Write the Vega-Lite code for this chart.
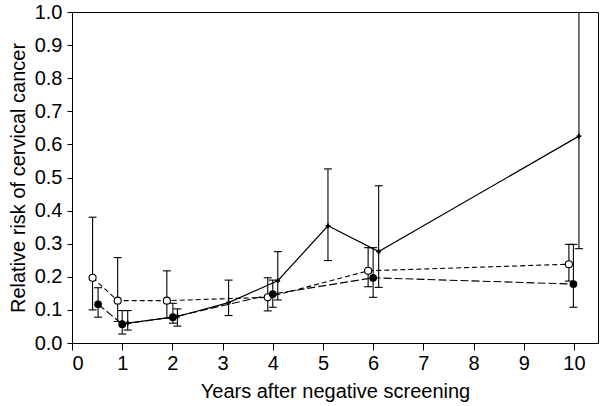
{
  "$schema": "https://vega.github.io/schema/vega-lite/v6.json",
  "width": 526,
  "height": 331,
  "autosize": {"type": "none"},
  "padding": {"left": 72, "top": 12, "right": 2, "bottom": 63},
  "background": "white",
  "config": {
    "view": {"stroke": "black", "strokeWidth": 1},
    "font": "Liberation Sans",
    "axis": {
      "domain": false,
      "grid": false,
      "tickColor": "black",
      "labelColor": "black",
      "titleColor": "black",
      "labelFontSize": 20,
      "titleFontSize": 20,
      "titleFontWeight": "normal",
      "labelFont": "Liberation Sans",
      "titleFont": "Liberation Sans",
      "labelOverlap": false
    }
  },
  "data": {
    "values": [
      {"series": "A", "x": 0.41, "y": 0.197, "lo": 0.10, "hi": 0.38},
      {"series": "A", "x": 0.91, "y": 0.128, "lo": 0.065, "hi": 0.258},
      {"series": "A", "x": 1.89, "y": 0.128, "lo": 0.075, "hi": 0.218},
      {"series": "A", "x": 3.90, "y": 0.138, "lo": 0.097, "hi": 0.197},
      {"series": "A", "x": 5.90, "y": 0.218, "lo": 0.17, "hi": 0.288},
      {"series": "A", "x": 9.90, "y": 0.238, "lo": 0.187, "hi": 0.298},
      {"series": "B", "x": 0.52, "y": 0.117, "lo": 0.078, "hi": 0.167},
      {"series": "B", "x": 1.00, "y": 0.057, "lo": 0.027, "hi": 0.098},
      {"series": "B", "x": 2.01, "y": 0.078, "lo": 0.06, "hi": 0.12},
      {"series": "B", "x": 4.00, "y": 0.148, "lo": 0.108, "hi": 0.19},
      {"series": "B", "x": 6.00, "y": 0.197, "lo": 0.138, "hi": 0.288},
      {"series": "B", "x": 9.99, "y": 0.178, "lo": 0.108, "hi": 0.298},
      {"series": "C", "x": 1.11, "y": 0.06, "lo": 0.039, "hi": 0.098},
      {"series": "C", "x": 2.10, "y": 0.08, "lo": 0.051, "hi": 0.103},
      {"series": "C", "x": 3.12, "y": 0.122, "lo": 0.083, "hi": 0.19},
      {"series": "C", "x": 4.10, "y": 0.188, "lo": 0.13, "hi": 0.276},
      {"series": "C", "x": 5.10, "y": 0.354, "lo": 0.249, "hi": 0.526},
      {"series": "C", "x": 6.11, "y": 0.276, "lo": 0.168, "hi": 0.475},
      {"series": "C", "x": 10.10, "y": 0.625, "lo": 0.285, "hi": 1.3}
    ]
  },
  "encoding": {
    "x": {
      "field": "x",
      "type": "quantitative",
      "scale": {"domain": [0, 10.48], "nice": false, "zero": false},
      "axis": {
        "title": "Years after negative screening",
        "values": [0, 1, 2, 3, 4, 5, 6, 7, 8, 9, 10],
        "tickSize": 7,
        "labelPadding": 3,
        "titlePadding": 8
      }
    }
  },
  "layer": [
    {
      "transform": [{"filter": "datum.series === 'A'"}],
      "mark": {"type": "line", "color": "black", "strokeWidth": 1.1, "strokeDash": [5, 3]},
      "encoding": {
        "y": {"field": "y", "type": "quantitative", "scale": {"domain": [0, 1], "nice": false},
          "axis": {"title": "Relative risk of cervical cancer", "values": [0, 0.1, 0.2, 0.3, 0.4, 0.5, 0.6, 0.7, 0.8, 0.9, 1.0], "format": ".1f", "tickSize": 5, "labelPadding": 5, "titlePadding": 6}}
      }
    },
    {
      "transform": [{"filter": "datum.series === 'B'"}],
      "mark": {"type": "line", "color": "black", "strokeWidth": 1.1, "strokeDash": [8, 3]},
      "encoding": {
        "y": {"field": "y", "type": "quantitative", "scale": {"domain": [0, 1], "nice": false},
          "axis": {"title": "Relative risk of cervical cancer", "values": [0, 0.1, 0.2, 0.3, 0.4, 0.5, 0.6, 0.7, 0.8, 0.9, 1.0], "format": ".1f", "tickSize": 5, "labelPadding": 5, "titlePadding": 6}}
      }
    },
    {
      "transform": [{"filter": "datum.series === 'C'"}],
      "mark": {"type": "line", "color": "black", "strokeWidth": 1.2},
      "encoding": {
        "y": {"field": "y", "type": "quantitative", "scale": {"domain": [0, 1], "nice": false},
          "axis": {"title": "Relative risk of cervical cancer", "values": [0, 0.1, 0.2, 0.3, 0.4, 0.5, 0.6, 0.7, 0.8, 0.9, 1.0], "format": ".1f", "tickSize": 5, "labelPadding": 5, "titlePadding": 6}}
      }
    },
    {
      "mark": {"type": "rule", "color": "black", "strokeWidth": 1.1, "clip": true},
      "encoding": {
        "y": {"field": "lo", "type": "quantitative", "scale": {"domain": [0, 1], "nice": false},
          "axis": {"title": "Relative risk of cervical cancer", "values": [0, 0.1, 0.2, 0.3, 0.4, 0.5, 0.6, 0.7, 0.8, 0.9, 1.0], "format": ".1f", "tickSize": 5, "labelPadding": 5, "titlePadding": 6}},
        "y2": {"field": "hi"}
      }
    },
    {
      "mark": {"type": "point", "shape": "M-1,0H1", "size": 64, "stroke": "black", "strokeWidth": 1.1, "filled": false, "opacity": 1, "clip": true},
      "encoding": {
        "y": {"field": "lo", "type": "quantitative", "scale": {"domain": [0, 1], "nice": false},
          "axis": {"title": "Relative risk of cervical cancer", "values": [0, 0.1, 0.2, 0.3, 0.4, 0.5, 0.6, 0.7, 0.8, 0.9, 1.0], "format": ".1f", "tickSize": 5, "labelPadding": 5, "titlePadding": 6}}
      }
    },
    {
      "mark": {"type": "point", "shape": "M-1,0H1", "size": 64, "stroke": "black", "strokeWidth": 1.1, "filled": false, "opacity": 1, "clip": true},
      "encoding": {
        "y": {"field": "hi", "type": "quantitative", "scale": {"domain": [0, 1], "nice": false},
          "axis": {"title": "Relative risk of cervical cancer", "values": [0, 0.1, 0.2, 0.3, 0.4, 0.5, 0.6, 0.7, 0.8, 0.9, 1.0], "format": ".1f", "tickSize": 5, "labelPadding": 5, "titlePadding": 6}}
      }
    },
    {
      "transform": [{"filter": "datum.series === 'A'"}],
      "mark": {"type": "point", "shape": "circle", "size": 50, "fill": "white", "stroke": "black", "strokeWidth": 1.1, "filled": true, "opacity": 1},
      "encoding": {
        "y": {"field": "y", "type": "quantitative", "scale": {"domain": [0, 1], "nice": false},
          "axis": {"title": "Relative risk of cervical cancer", "values": [0, 0.1, 0.2, 0.3, 0.4, 0.5, 0.6, 0.7, 0.8, 0.9, 1.0], "format": ".1f", "tickSize": 5, "labelPadding": 5, "titlePadding": 6}}
      }
    },
    {
      "transform": [{"filter": "datum.series === 'B'"}],
      "mark": {"type": "point", "shape": "circle", "size": 60, "color": "black", "filled": true, "opacity": 1},
      "encoding": {
        "y": {"field": "y", "type": "quantitative", "scale": {"domain": [0, 1], "nice": false},
          "axis": {"title": "Relative risk of cervical cancer", "values": [0, 0.1, 0.2, 0.3, 0.4, 0.5, 0.6, 0.7, 0.8, 0.9, 1.0], "format": ".1f", "tickSize": 5, "labelPadding": 5, "titlePadding": 6}}
      }
    },
    {
      "transform": [{"filter": "datum.series === 'C'"}],
      "mark": {"type": "point", "shape": "cross", "size": 22, "color": "black", "filled": true, "opacity": 1},
      "encoding": {
        "y": {"field": "y", "type": "quantitative", "scale": {"domain": [0, 1], "nice": false},
          "axis": {"title": "Relative risk of cervical cancer", "values": [0, 0.1, 0.2, 0.3, 0.4, 0.5, 0.6, 0.7, 0.8, 0.9, 1.0], "format": ".1f", "tickSize": 5, "labelPadding": 5, "titlePadding": 6}}
      }
    }
  ]
}
